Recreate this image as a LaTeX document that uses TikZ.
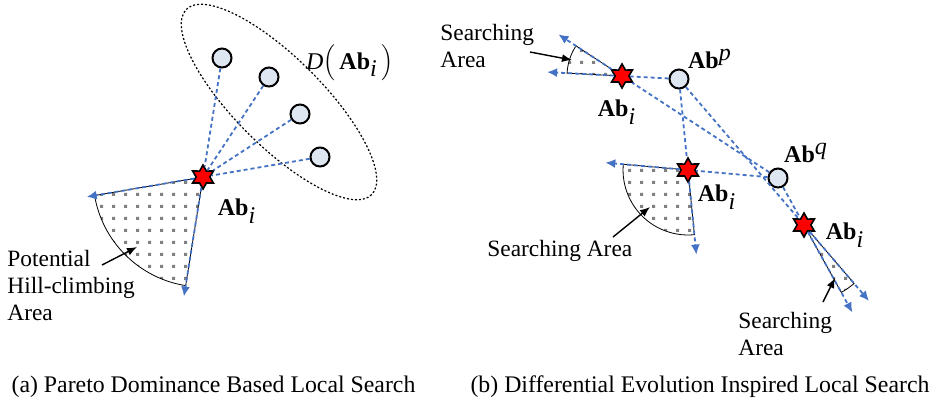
\documentclass[tikz,border=0pt]{standalone}
\usepackage{fontspec}
\setmainfont{Liberation Serif}
\usetikzlibrary{positioning,calc}
\usetikzlibrary{shapes.geometric}
\usetikzlibrary{patterns}
\usetikzlibrary{backgrounds}
\usetikzlibrary{arrows.meta,arrows}

\definecolor{lineblue}{RGB}{68,114,196}
\definecolor{cellfill}{RGB}{222,230,242}

\pgfdeclarepatternformonly{griddots}{\pgfpointorigin}{\pgfpoint{6pt}{6pt}}{\pgfpoint{6pt}{6pt}}{%
  \pgfpathrectangle{\pgfpoint{2.2pt}{2.2pt}}{\pgfpoint{1.6pt}{1.6pt}}\pgfusepath{fill}}

\tikzset{%
  % Specifications for style of nodes:
  >={Latex[width=2mm,length=2mm]},
  antibody/.style={circle, draw, line width=1pt, fill=cellfill, minimum size=9.5pt, inner sep=0},
  current/.style={star, star points=6, star point ratio=1.75, draw, line width=0.8pt, fill=red, minimum size=12pt, inner sep=0},
  ab/.style={font=\fontsize{12}{14}\selectfont, inner sep=0},
  lbl/.style={font=\fontsize{11.7}{13.5}\selectfont, align=left, inner sep=0, anchor=north west},
  subcap/.style={font=\fontsize{11.9}{13}\selectfont, inner sep=0},
  % Specifications for style of lines:
  bdash/.style={lineblue, line width=0.9pt, dash pattern=on 2pt off 1.5pt},
  barrow/.style={bdash, -{Latex[length=5pt,width=4.5pt]}},
  area/.style={draw, line width=0.4pt, pattern=griddots, pattern color=gray},
  pointer/.style={-{Latex[length=5pt,width=4pt]}, line width=0.7pt},
}

\begin{document}
\begin{tikzpicture}[x=0.5pt,y=-0.5pt]
  \useasboundingbox (0,0) rectangle (936,403);

  % (a) dominance based search
  \draw[line width=0.6pt, dash pattern=on 1pt off 1pt, rotate around={-45:(279,102)}]
    (279,102) ellipse [x radius=131, y radius=44];
  \node[antibody] (d1) at (222,58) {};
  \node[antibody] (d2) at (269,77) {};
  \node[antibody] (d3) at (300,114) {};
  \node[antibody] (d4) at (320,157) {};
  \node[current] (sL) at (203,177) {};
  \node[ab] (labL) at (237,211) {\textbf{Ab}$_{\textit{i}}$};
  \node[ab] (labD) at (350,63) {\textit{D}$\Big($\,\textbf{Ab}$_{\textit{i}}\,\Big)$};
  \coordinate (eL1) at ($(sL)!-60.5pt!(d1)$);
  \coordinate (eL2) at ($(sL)!-59pt!(d4)$);
  \begin{scope}[on background layer]
    \draw[area] (sL.center) -- ++(99.07:110) arc[start angle=99.07, end angle=170.3, radius=110] -- cycle;
  \end{scope}
  \foreach \d in {d1,d2,d3,d4}
    \draw[bdash] (\d) -- (sL);
  \draw[barrow] (sL) -- (eL1);
  \draw[barrow] (sL) -- (eL2);
  \node[lbl] (hill) at (7,250) {Potential\\Hill-climbing\\Area};
  \coordinate (ptL) at (102,265);
  \coordinate (tipL) at (137,247);
  \draw[pointer] (ptL) -- (tipL);

  % (b) differential evolution search
  \node[antibody] (p) at (679,79) {};
  \node[antibody] (q) at (778,178) {};
  \node[current] (s1) at (622,76) {};
  \node[current] (s2) at (688,170) {};
  \node[current] (s3) at (804,225) {};
  \node[ab] (labP) at (710,59) {\textbf{Ab}$^{\textit{p}}$};
  \node[ab] (labQ) at (806,153) {\textbf{Ab}$^{\textit{q}}$};
  \node[ab] (lab1) at (617,112) {\textbf{Ab}$_{\textit{i}}$};
  \node[ab] (lab2) at (717,197) {\textbf{Ab}$_{\textit{i}}$};
  \node[ab] (lab3) at (845,235) {\textbf{Ab}$_{\textit{i}}$};
  \coordinate (e1p) at ($(s1)!-37.5pt!(p)$);
  \coordinate (e1q) at ($(s1)!-38pt!(q)$);
  \coordinate (e2p) at ($(s2)!-42.5pt!(p)$);
  \coordinate (e2q) at ($(s2)!-41.5pt!(q)$);
  \coordinate (e3p) at ($(s3)!-50pt!(p)$);
  \coordinate (e3q) at ($(s3)!-50pt!(q)$);
  \begin{scope}[on background layer]
    \draw[area] (s1.center) -- ++(183:55) arc[start angle=183, end angle=213.2, radius=55] -- cycle;
    \draw[area] (s2.center) -- ++(84.35:65) arc[start angle=84.35, end angle=185.1, radius=65] -- cycle;
    \draw[area] (s3.center) -- ++(49.4:77) arc[start angle=49.4, end angle=61.05, radius=77] -- cycle;
  \end{scope}
  \foreach \s in {s1,s2,s3} {
    \draw[bdash] (p) -- (\s);
    \draw[bdash] (q) -- (\s);
  }
  \draw[barrow] (s1) -- (e1p);
  \draw[barrow] (s1) -- (e1q);
  \draw[barrow] (s2) -- (e2p);
  \draw[barrow] (s2) -- (e2q);
  \draw[barrow] (s3) -- (e3p);
  \draw[barrow] (s3) -- (e3q);

  \node[lbl] (area1) at (440,24) {Searching\\Area};
  \coordinate (pt1) at (530,52);
  \coordinate (tip1) at (572,60);
  \draw[pointer] (pt1) -- (tip1);
  \node[lbl] (area2) at (487,240) {Searching Area};
  \coordinate (pt2) at (613,237);
  \coordinate (tip2) at (650,207);
  \draw[pointer] (pt2) -- (tip2);
  \node[lbl] (area3) at (738,312) {Searching\\Area};
  \coordinate (pt3) at (823,302);
  \coordinate (tip3) at (835,278);
  \draw[pointer] (pt3) -- (tip3);

  % captions
  \node[subcap] (capA) at (213.5,387) {(a) Pareto Dominance Based Local Search};
  \node[subcap] (capB) at (700,387) {(b) Differential Evolution Inspired Local Search};
\end{tikzpicture}
\end{document}
